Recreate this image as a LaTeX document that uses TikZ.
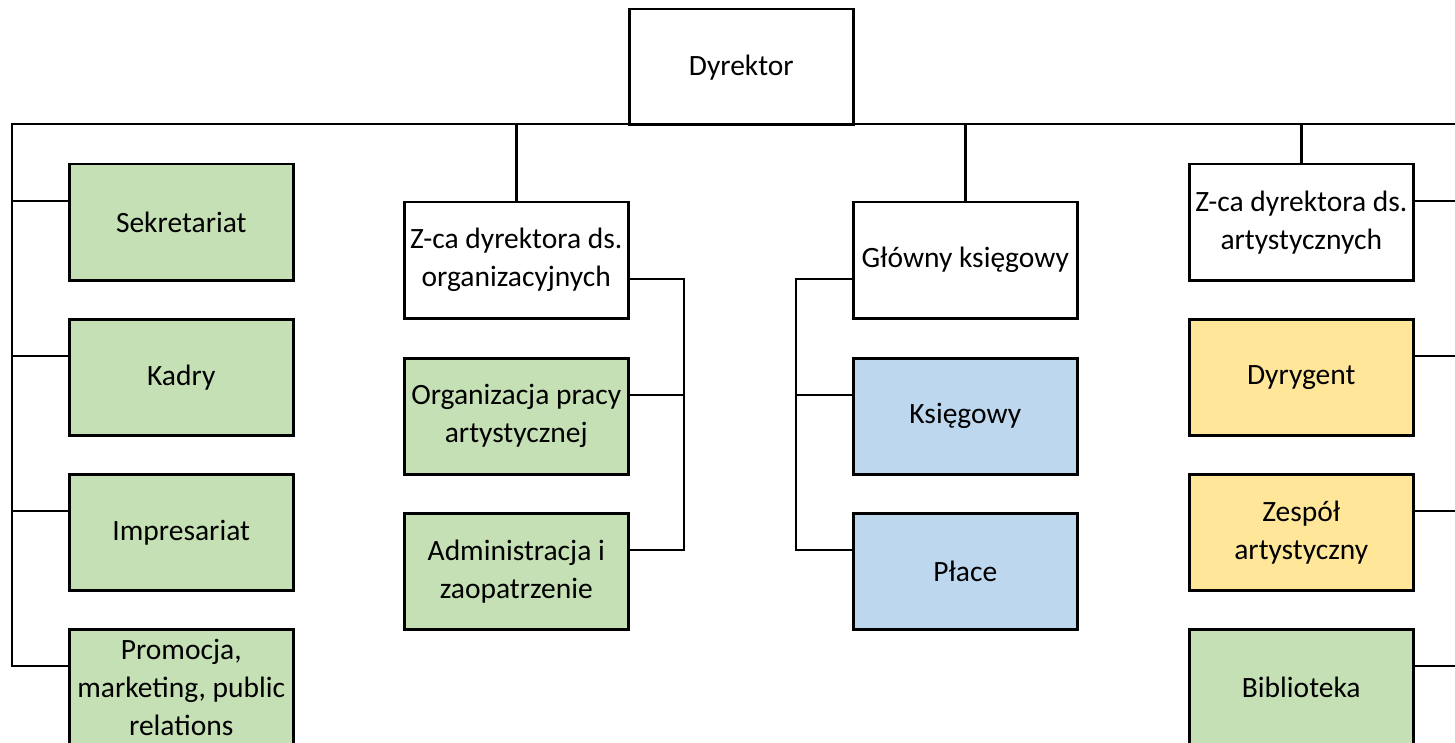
\documentclass[tikz,border=0pt]{standalone}
\usepackage{fontspec}
\setmainfont{Carlito}
\usetikzlibrary{calc}
\definecolor{gfill}{HTML}{C5E0B4}
\definecolor{bfill}{HTML}{BDD7EE}
\definecolor{yfill}{HTML}{FFE699}
\begin{document}
\begin{tikzpicture}[x=1pt,y=-1pt,
  box/.style={draw, line width=2.5pt, minimum width=224pt, minimum height=116pt,
    align=center, font=\fontsize{29.5}{38}\selectfont, inner sep=0pt, anchor=north west, fill=white},
  gbox/.style={box, fill=gfill},
  bbox/.style={box, fill=bfill},
  ybox/.style={box, fill=yfill},
  conn/.style={line width=2.5pt}]
\useasboundingbox (0,0) rectangle (1455,743);
\clip (0,0) rectangle (1455,743);

% nodes
\node[box]  (dyr)  at (628,8)    {Dyrektor};
\node[gbox] (sek)  at (68,163)   {Sekretariat};
\node[gbox] (kad)  at (68,318)   {Kadry};
\node[gbox] (imp)  at (68,473)   {Impresariat};
\node[gbox] (prom) at (68,628)   {Promocja,\\marketing, public\\relations};
\node[box]  (org)  at (403,201)  {Z-ca dyrektora ds.\\organizacyjnych};
\node[gbox] (orga) at (403,357)  {Organizacja pracy\\artystycznej};
\node[gbox] (adm)  at (403,512)  {Administracja i\\zaopatrzenie};
\node[box]  (gk)   at (852,201)  {Główny księgowy};
\node[bbox] (ksi)  at (852,357)  {Księgowy};
\node[bbox] (pla)  at (852,512)  {Płace};
\node[box]  (art)  at (1188,163) {Z-ca dyrektora ds.\\artystycznych};
\node[ybox] (dyry) at (1188,318) {Dyrygent};
\node[ybox] (zesp) at (1188,473) {Zespół\\artystyczny};
\node[gbox] (bib)  at (1188,628) {Biblioteka};

% bus coordinates
\coordinate (lb) at (12,124);
\coordinate (rb) at (1475,124);
\coordinate (orgbus) at (684,0);
\coordinate (gkbus) at (796,0);
\coordinate (artbus) at (1475,0);

% branch points
\coordinate (sekL)  at ([yshift=-38pt]sek.north west);
\coordinate (kadL)  at ([yshift=-38pt]kad.north west);
\coordinate (impL)  at ([yshift=-38pt]imp.north west);
\coordinate (promL) at ([yshift=-38pt]prom.north west);
\coordinate (orgR)  at ([yshift=-78pt]org.north east);
\coordinate (orgaR) at ([yshift=-38pt]orga.north east);
\coordinate (admR)  at ([yshift=-38pt]adm.north east);
\coordinate (gkL)   at ([yshift=-78pt]gk.north west);
\coordinate (ksiL)  at ([yshift=-38pt]ksi.north west);
\coordinate (plaL)  at ([yshift=-38pt]pla.north west);
\coordinate (artR)  at ([yshift=-38pt]art.north east);
\coordinate (dyryR) at ([yshift=-38pt]dyry.north east);
\coordinate (zespR) at ([yshift=-38pt]zesp.north east);
\coordinate (bibR)  at ([yshift=-38pt]bib.north east);

% main bus
\draw[conn] (rb) -- (lb) |- (promL);
\draw[conn] (sekL) -- (lb |- sekL);
\draw[conn] (kadL) -- (lb |- kadL);
\draw[conn] (impL) -- (lb |- impL);
\draw[conn] (org.north) -- (org.north |- lb);
\draw[conn] (gk.north) -- (gk.north |- lb);
\draw[conn] (art.north) -- (art.north |- lb);

% org sub-bus
\draw[conn] (orgR) -| (orgbus |- admR) -- (admR);
\draw[conn] (orgaR) -- (orgbus |- orgaR);

% gk sub-bus
\draw[conn] (gkL) -| (gkbus |- plaL) -- (plaL);
\draw[conn] (ksiL) -- (gkbus |- ksiL);

% art sub-bus
\draw[conn] (artR) -| (artbus |- bibR) -- (bibR);
\draw[conn] (dyryR) -- (artbus |- dyryR);
\draw[conn] (zespR) -- (artbus |- zespR);
\end{tikzpicture}
\end{document}
